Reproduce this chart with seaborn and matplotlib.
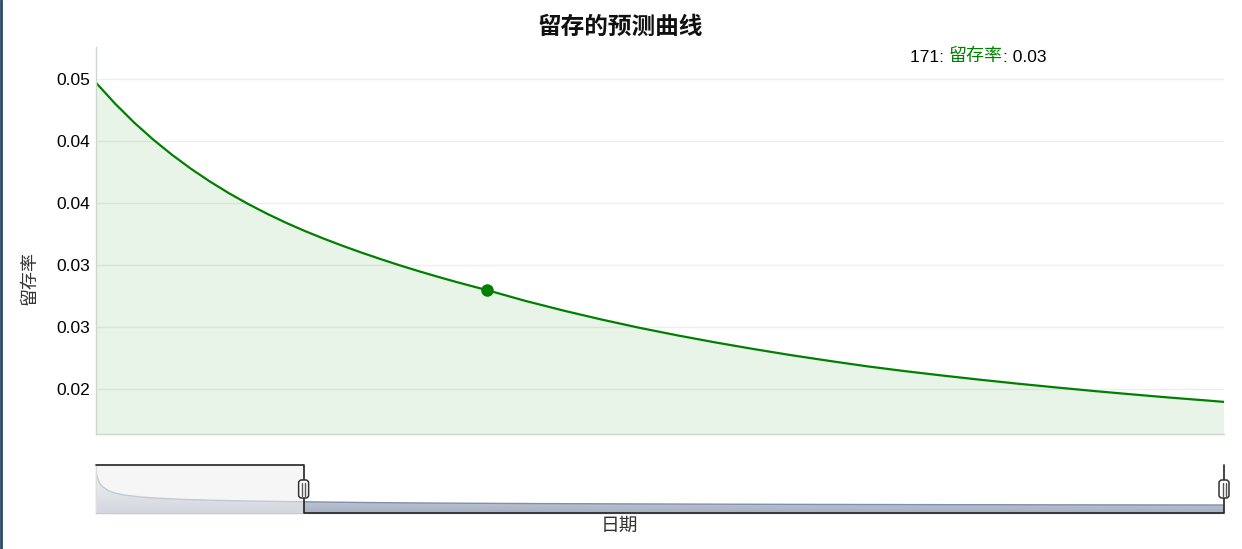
import numpy as np
import pandas as pd
import matplotlib
matplotlib.use("Agg")
import matplotlib.pyplot as plt
import matplotlib.transforms as mtransforms
from matplotlib.patches import FancyBboxPatch, Polygon, Rectangle
from matplotlib.lines import Line2D
from matplotlib.colors import LinearSegmentedColormap
import seaborn as sns

# ---------------- data ----------------
days = [1, 2, 3, 5, 7, 10, 15, 20, 30, 40, 50, 60,
        68, 73, 78, 83, 88, 93, 98, 103, 108, 113, 118, 123, 128, 133, 138,
        143, 148, 153, 158, 163, 168, 171,
        181, 191, 201, 211, 221, 231, 241, 251, 261, 271, 281, 291, 301, 311,
        321, 331, 341, 351, 361, 365]
retention = [0.280, 0.205, 0.172, 0.138, 0.120, 0.104, 0.089, 0.080, 0.068,
             0.061, 0.056, 0.052,
             0.04970, 0.04802, 0.04650, 0.04513, 0.04389, 0.04276, 0.04173,
             0.04079, 0.03993, 0.03914, 0.03841, 0.03774, 0.03712, 0.03654,
             0.03599, 0.03547, 0.03497, 0.03450, 0.03405, 0.03362, 0.03321,
             0.03297,
             0.03211, 0.03133, 0.03061, 0.02994, 0.02933, 0.02876, 0.02823,
             0.02773, 0.02727, 0.02683, 0.02644, 0.02608, 0.02574, 0.02542,
             0.02512, 0.02483, 0.02456, 0.02430, 0.02406, 0.02396]
series_name = "留存率"
title = "留存的预测曲线"
x_label = "日期"
highlight_day = 171
selection = [68, 365]
y_range = [0.02137, 0.05258]
ytick_values = [0.025, 0.030, 0.035, 0.040, 0.045, 0.050]
ytick_labels = ["0.02", "0.03", "0.03", "0.04", "0.04", "0.05"]

df = pd.DataFrame({"day": days, "retention": retention})
highlight_value = df.loc[df["day"] == highlight_day, "retention"].iloc[0]

# ---------------- style ----------------
sns.set_theme(style="white")
plt.rcParams["font.family"] = ["Liberation Sans", "Noto Sans CJK SC"]
plt.rcParams["axes.unicode_minus"] = False

W, H = 1242, 549
fig = plt.figure(figsize=(W / 100, H / 100), dpi=100)
fig.patch.set_facecolor("white")


def frame(x0, y0, x1, y1):
    return [x0 / W, 1 - y1 / H, (x1 - x0) / W, (y1 - y0) / H]


GREEN = "#008000"

# ---------------- main plot ----------------
ax = fig.add_axes(frame(96, 47, 1224, 434))
ax.set_axisbelow(True)
ax.fill_between(df["day"], df["retention"], 0, color=GREEN, alpha=0.085, lw=0)
sns.lineplot(data=df, x="day", y="retention", ax=ax, color=GREEN, lw=1.6,
             legend=False)
ax.plot([highlight_day], [highlight_value], "o", color=GREEN, ms=8, zorder=5)

ax.set_xlim(selection)
ax.set_ylim(y_range)
ax.set_xticks([])
ax.set_yticks(ytick_values)
ax.set_yticklabels(ytick_labels, fontsize=12.5, color="black")
ax.tick_params(axis="y", length=0, pad=4)
ax.grid(axis="y", color="#eeeeee", lw=1)
ax.grid(axis="x", visible=False)
ax.set_xlabel("")
ax.set_ylabel("")
for s in ["top", "right"]:
    ax.spines[s].set_visible(False)
for s in ["left", "bottom"]:
    ax.spines[s].set_color("#cfd6cf")
    ax.spines[s].set_linewidth(1)

# ---------------- texts ----------------
fig.text(620 / W, 1 - 27 / H, title, ha="center", va="center", fontsize=17,
         fontweight="bold", family=["Noto Sans CJK SC"], color="#111111")
fig.text(30 / W, 1 - 278 / H, series_name, ha="center", va="center",
         rotation=90, fontsize=13, family=["Noto Sans CJK SC"], color="#333333")
fig.text(619 / W, 1 - 525 / H, x_label, ha="center", va="center",
         fontsize=13.5, family=["Noto Sans CJK SC"], color="#333333")

t1 = fig.text(910 / W, 1 - 57 / H, f"{highlight_day}: ", ha="left",
              va="center", fontsize=12.5, color="black")
t2 = ax.annotate(series_name, xy=(1, 0), xycoords=t1, va="bottom", ha="left",
                 fontsize=13, color=GREEN, annotation_clip=False)
t3 = ax.annotate(f": {highlight_value:.2f}", xy=(1, 0), xycoords=t2,
                 va="bottom", ha="left", fontsize=12.5, color="black",
                 annotation_clip=False)

# ---------------- range selector ----------------
ax2 = fig.add_axes(frame(96, 465, 1224, 513))
m, M = min(retention), max(retention)
R = M - m
ylo, yhi = m - 0.25 * R, M + 0.25 * R
x0, x1 = days[0], days[-1]

poly = Polygon(list(zip(days, retention)) + [(x1, ylo), (x0, ylo)],
               closed=True, facecolor="none", edgecolor="none")
ax2.add_patch(poly)
grad = np.linspace(0, 1, 256).reshape(-1, 1)
cmap = LinearSegmentedColormap.from_list("sel", ["#ffffff", "#A7B1C4"])
im = ax2.imshow(grad, extent=[x0, x1, ylo, yhi], origin="upper",
                aspect="auto", cmap=cmap, interpolation="bilinear")
im.set_clip_path(poly)
sns.lineplot(data=df, x="day", y="retention", ax=ax2, color="#808FAB",
             lw=1, legend=False)
ax2.add_patch(Rectangle((x0, ylo), selection[0] - x0, yhi - ylo,
                        facecolor=(240 / 255, 240 / 255, 240 / 255, 0.6),
                        edgecolor="none", zorder=3))
ax2.set_xlim(x0, x1)
ax2.set_ylim(ylo, yhi)
ax2.set_xticks([])
ax2.set_yticks([])
ax2.set_xlabel("")
ax2.set_ylabel("")
for s in ["top", "right"]:
    ax2.spines[s].set_visible(False)
for s in ["left", "bottom"]:
    ax2.spines[s].set_color("#c8c8c8")
    ax2.spines[s].set_linewidth(1)

blend = mtransforms.blended_transform_factory(ax2.transData, ax2.transAxes)
ax2.plot([x0, selection[0], selection[0], selection[1], selection[1]],
         [1, 1, 0, 0, 1], color="#222222", lw=1.2, transform=blend,
         clip_on=False, zorder=6)

for xs in selection:
    tr = fig.dpi_scale_trans + mtransforms.ScaledTranslation(xs, 0.5, blend)
    handle = FancyBboxPatch((-0.035, -0.075), 0.07, 0.15,
                            boxstyle="round,pad=0.015,rounding_size=0.03",
                            facecolor="white", edgecolor="#333333", lw=1.1,
                            transform=tr, clip_on=False, zorder=8)
    ax2.add_patch(handle)
    for dx in (-0.015, 0.015):
        ax2.add_line(Line2D([dx, dx], [-0.065, 0.065], color="#555555",
                            lw=1, transform=tr, clip_on=False, zorder=9))

# page border on the left
fig.add_artist(Line2D([1 / W, 1 / W], [0, 1], color="#2c4a6b", lw=2,
                      transform=fig.transFigure))

fig.savefig("out.png", dpi=100)
